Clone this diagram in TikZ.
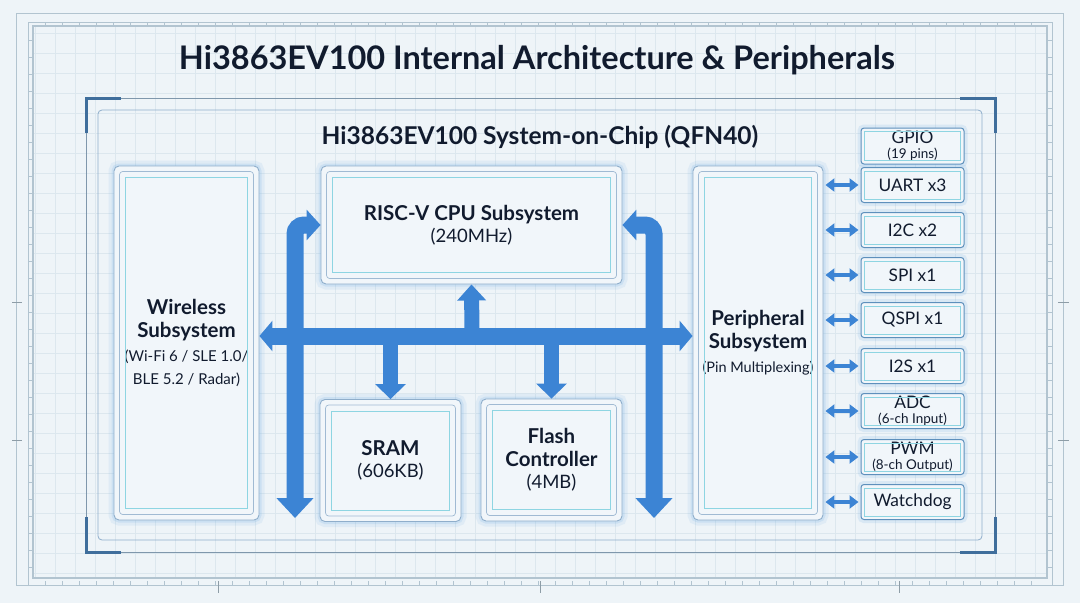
\documentclass[tikz,border=0pt]{standalone}
\usepackage{fontspec}
\setmainfont{Lato}
\usepackage{xcolor}
\usetikzlibrary{arrows.meta,positioning}

\definecolor{bgfill}{HTML}{EEF4F8}
\definecolor{gridln}{HTML}{DCE7EE}
\definecolor{frameln}{HTML}{B2C4D0}
\definecolor{chipln}{HTML}{7F97AC}
\definecolor{cornerblue}{HTML}{3F6E9C}
\definecolor{ink}{HTML}{111B2E}
\definecolor{boxln}{HTML}{8FAECB}
\definecolor{boxfill}{HTML}{F1F6FA}
\definecolor{cyanln}{HTML}{8ED5E2}
\definecolor{glow}{HTML}{7DB4E6}
\definecolor{busblue}{HTML}{3C84D4}
\definecolor{pln}{HTML}{5E90BC}

\newcommand{\subtxt}[1]{{\fontsize{15}{18}\selectfont\mdseries #1}}
\newcommand{\valtxt}[1]{{\fontsize{18.5}{20}\selectfont\mdseries #1}}
\newcommand{\tinytxt}[1]{{\fontsize{13.5}{14}\selectfont #1}}

\begin{document}
\begin{tikzpicture}[x=1pt,y=-1pt,
 blk/.style={draw=boxln,line width=0.9pt,rounded corners=5pt,fill=boxfill,text=ink,align=center,
  preaction={draw=glow,line width=11pt,opacity=0.13},preaction={draw=glow,line width=5pt,opacity=0.2},
  font=\fontsize{20.5}{22.5}\selectfont\bfseries},
 inner/.style={draw=boxln!85,line width=0.7pt,rounded corners=3pt},
 accent/.style={draw=cyanln,line width=0.8pt},
 pbox/.style={draw=pln,line width=1pt,rounded corners=3pt,fill=boxfill,text=ink,align=center,
  minimum width=103pt,minimum height=35pt,inner sep=1pt,font=\fontsize{17.3}{15}\selectfont,
  preaction={draw=glow,line width=7pt,opacity=0.18}},
 bus/.style={draw=busblue,line width=17pt,rounded corners=9pt},
 pio/.style={draw=busblue,line width=4pt,{Triangle[width=13pt,length=9pt]}-{Triangle[width=13pt,length=9pt]},
  shorten <=2pt,shorten >=2pt},
 tick/.style={draw=frameln,line width=0.5pt}]
\useasboundingbox (0,0) rectangle (1080,603);
\fill[bgfill] (0,0) rectangle (1080,603);

% background grid and frame
\foreach \gx in {35,55,...,1045} \draw[gridln,line width=0.5pt] (\gx,26) -- (\gx,578);
\foreach \gy in {33,53,...,573} \draw[gridln,line width=0.5pt] (33,\gy) -- (1047,\gy);
\draw[frameln,line width=0.8pt] (16,13) rectangle (1063,585);
\draw[frameln,line width=0.8pt] (28,22) -- (1052,22) -- (1052,585) (28,585) -- (28,22);
\draw[frameln,line width=1.2pt] (33,26) rectangle (1047,578);
\foreach \t in {45,62,...,1040} {\draw[tick] (\t,22) -- (\t,26); \draw[tick] (\t,585) -- (\t,581);}
\foreach \t in {40,57,...,575} {\draw[tick] (28,\t) -- (33,\t); \draw[tick] (1052,\t) -- (1047,\t);}
\foreach \t in {302,440} {\draw[frameln!80!black,line width=0.8pt] (12,\t) -- (22,\t); \draw[frameln!80!black,line width=0.8pt] (1058,\t) -- (1069,\t);}
\foreach \t in {218,540,899} \draw[frameln!80!black,line width=0.8pt] (\t,581) -- (\t,593);

% title
\node[text=ink,font=\fontsize{32.5}{38}\selectfont\bfseries] (title) at (537,60) {Hi3863EV100 Internal Architecture \& Peripherals};

% chip outline
\draw[chipln,line width=0.8pt] (86,98) rectangle (995,552);
\draw[cornerblue,line width=3pt] (86,133) -- (86,98) -- (121,98);
\draw[cornerblue,line width=3pt] (960,98) -- (995,98) -- (995,133);
\draw[cornerblue,line width=3pt] (86,517) -- (86,552) -- (121,552);
\draw[cornerblue,line width=3pt] (960,552) -- (995,552) -- (995,517);
\node[draw=boxln,line width=0.8pt,rounded corners=4pt,minimum width=884pt,minimum height=430pt] (chip) at (540,325) {};
\node[text=ink,font=\fontsize{24.5}{28}\selectfont\bfseries] (chiptitle) at (540,137) {Hi3863EV100 System-on-Chip (QFN40)};

% subsystems
\node[blk,minimum width=145pt,minimum height=354pt] (wifi) at (186.5,343) {Wireless\\Subsystem\\[2pt]\subtxt{(Wi-Fi 6 / SLE 1.0/}\\\subtxt{BLE 5.2 / Radar)}};
\node[blk,minimum width=301pt,minimum height=118pt] (cpu) at (471.5,225) {RISC-V CPU Subsystem\\\valtxt{(240MHz)}};
\node[blk,minimum width=141pt,minimum height=122pt] (sram) at (390.5,460.5) {SRAM\\\valtxt{(606KB)}};
\node[blk,minimum width=141pt,minimum height=122pt] (flash) at (551.5,460) {Flash\\Controller\\\valtxt{(4MB)}};
\node[blk,minimum width=130pt,minimum height=354pt] (per) at (758,343) {Peripheral\\Subsystem\\[2pt]\subtxt{\fontsize{14.5}{18}\selectfont(Pin Multiplexing)}};
\foreach \n in {wifi,cpu,sram,flash,per} {
 \draw[inner] ([shift={(6,6)}]\n.north west) rectangle ([shift={(-6,-6)}]\n.south east);
 \draw[accent] ([shift={(12,12)}]\n.north west) rectangle ([shift={(-12,-12)}]\n.south east);
}

% peripherals
\node[pbox,minimum height=36pt] (gpio) at (912.5,146) {GPIO\\\tinytxt{(19 pins)}};
\node[pbox] (uart) at (912.5,185) {UART x3};
\node[pbox] (i2c) at (912.5,230) {I2C x2};
\node[pbox] (spi) at (912.5,275) {SPI x1};
\node[pbox] (qspi) at (912.5,320) {QSPI x1};
\node[pbox] (i2s) at (912.5,366) {I2S x1};
\node[pbox] (adc) at (912.5,411) {ADC\\\tinytxt{(6-ch Input)}};
\node[pbox] (pwm) at (912.5,457) {PWM\\\tinytxt{(8-ch Output)}};
\node[pbox] (wdog) at (912.5,502) {Watchdog};
\foreach \n in {gpio,uart,i2c,spi,qspi,i2s,adc,pwm,wdog}
 \draw[accent] ([shift={(4,4)}]\n.north west) rectangle ([shift={(-4,-4)}]\n.south east);
\foreach \n in {uart,i2c,spi,qspi,i2s,adc,pwm,wdog}
 \draw[pio] (per.east |- \n) -- (\n.west);

% system bus
\coordinate (hub) at (472,336);
\coordinate (lbot) at (295,518);
\coordinate (rbot) at (654,518);
\draw[bus,{Triangle[width=36pt,length=20pt]}-{Triangle[width=30pt,length=14pt]}] (lbot) -- (lbot |- cpu.west) -- (cpu.west);
\draw[bus,{Triangle[width=36pt,length=20pt]}-{Triangle[width=30pt,length=14pt]}] (rbot) -- (rbot |- cpu.east) -- (cpu.east);
\draw[bus,{Triangle[width=30pt,length=13pt]}-{Triangle[width=30pt,length=13pt]}] (wifi.east |- hub) -- (per.west |- hub);
\draw[bus,line width=15pt,-{Triangle[width=28pt,length=16pt]}] (hub) -- (cpu.south);
\draw[bus,line width=15pt,-{Triangle[width=30pt,length=15pt]}] (sram.north |- hub) -- (sram.north);
\draw[bus,line width=15pt,-{Triangle[width=30pt,length=15pt]}] (flash.north |- hub) -- (flash.north);
\end{tikzpicture}
\end{document}
